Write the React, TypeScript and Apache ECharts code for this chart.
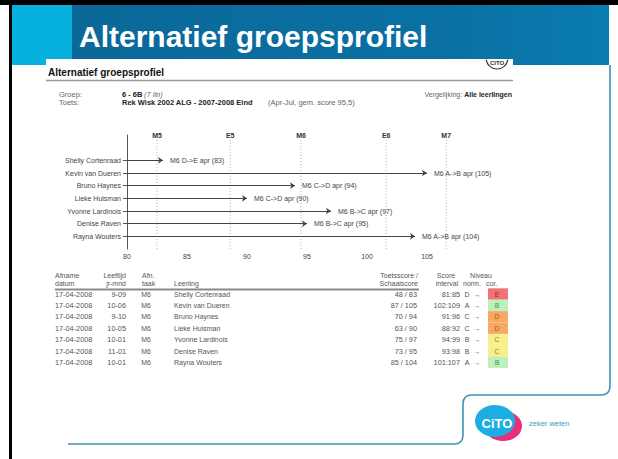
import React, { useEffect, useRef } from 'react';
import * as echarts from 'echarts';

const students = ['Shelly Cortenraad', 'Kevin van Dueren', 'Bruno Haynes', 'Lieke Huisman', 'Yvonne Lardinois', 'Denise Raven', 'Rayna Wouters'];
const scores = [83, 105, 94, 90, 97, 95, 104];
const scoreLabels = ['M6 D->E apr (83)', 'M6 A->B apr (105)', 'M6 C->D apr (94)', 'M6 C->D apr (90)', 'M6 B->C apr (97)', 'M6 B->C apr (95)', 'M6 A->B apr (104)'];
const refNames = ['M5', 'E5', 'M6', 'E6', 'M7'];
const refValues = [82.5, 88.6, 94.5, 101.6, 106.6];
const xTickLabels = [80, 85, 90, 95, 100, 105];
const xMinorTicks = [80, 81, 82, 83, 84, 85, 86, 87, 88, 89, 90, 91, 92, 93, 94, 95, 96, 97, 98, 99, 100, 101, 102, 103, 104, 105, 106, 107, 108];

const dates = ['17-04-2008', '17-04-2008', '17-04-2008', '17-04-2008', '17-04-2008', '17-04-2008', '17-04-2008'];
const ages = ['9-09', '10-06', '9-10', '10-05', '10-01', '11-01', '10-01'];
const tasks = ['M6', 'M6', 'M6', 'M6', 'M6', 'M6', 'M6'];
const toetsScores = ['48 / 83', '87 / 105', '70 / 94', '63 / 90', '75 / 97', '73 / 95', '85 / 104'];
const intervals = ['81:85', '102:109', '91:96', '88:92', '94:99', '93:98', '101:107'];
const normLevels = ['D', 'A', 'C', 'C', 'B', 'B', 'A'];
const corLevels = ['E', 'B', 'D', 'D', 'C', 'C', 'B'];

const levelBg: Record<string, string> = { E: '#f07474', B: '#bdf0bd', D: '#f6a965', C: '#f6ef8c', A: '#bdf0bd' };
const levelFg: Record<string, string> = { E: '#b31616', B: '#2f9a2f', D: '#b35a00', C: '#9a8c00', A: '#2f9a2f' };

const F = '"Liberation Sans", Arial, Helvetica, sans-serif';

const yCats = ['', ...students.slice().reverse(), '', ''];

function txt(x: number, y: number, text: string, o: any = {}) {
  const align = o.align || 'left';
  return {
    type: 'text',
    x,
    y,
    z: o.z || 10,
    style: {
      text,
      fontSize: o.size || 7,
      fontFamily: F,
      fontWeight: o.bold ? 'bold' : 'normal',
      fontStyle: o.italic ? 'italic' : 'normal',
      fill: o.color || '#555',
      align,
      textAlign: align,
      verticalAlign: 'middle',
      textVerticalAlign: 'middle',
      rich: o.rich,
    },
  };
}

export default function App() {
  const ref = useRef<HTMLDivElement>(null);
  useEffect(() => {
    if (!ref.current) return;
    const chart = echarts.init(ref.current, null, { renderer: 'svg' });

    const framePath = 'M 610 65 L 610 386 Q 610 395 601 395 L 472 395 Q 463 395 463 404 L 463 435 Q 463 444 454 444 L 68 444';
    echarts.graphic.registerShape('frameLine', echarts.graphic.extendPath(framePath, {}));

    const g: any[] = [];
    // outer frame
    g.push({ type: 'rect', shape: { x: 0, y: 0, width: 618, height: 5 }, style: { fill: '#000' }, z: 20 });
    g.push({ type: 'rect', shape: { x: 9, y: 0, width: 3, height: 459 }, style: { fill: '#000' }, z: 20 });
    // header band
    g.push({ type: 'rect', shape: { x: 12, y: 5, width: 60, height: 60 }, style: { fill: '#06b1de' }, z: 1 });
    g.push({
      type: 'rect', shape: { x: 72, y: 5, width: 537, height: 60 }, z: 1,
      style: {
        fill: new echarts.graphic.LinearGradient(0, 0, 1, 0, [
          { offset: 0, color: '#0b6899' },
          { offset: 0.7, color: '#0a70a3' },
          { offset: 1, color: '#0a7cb1' },
        ]),
      },
    });
    g.push(txt(79, 36, 'Alternatief groepsprofiel', { size: 30, bold: true, color: '#ffffff', z: 5 }));
    // inset white box
    g.push({ type: 'rect', shape: { x: 46, y: 59, width: 467, height: 8 }, style: { fill: '#ffffff' }, z: 3 });
    // small logo in inset
    g.push({ type: 'arc', shape: { cx: 497, cy: 58, r: 11, startAngle: 0.15, endAngle: Math.PI - 0.15 }, style: { stroke: '#333', lineWidth: 1.2, fill: 'none' }, z: 4 });
    g.push(txt(497, 63, 'CITO', { size: 6, bold: true, color: '#333', align: 'center', z: 4 }));
    // subtitle
    g.push(txt(48, 72, 'Alternatief groepsprofiel', { size: 10, bold: true, color: '#111' }));
    g.push({ type: 'line', shape: { x1: 46, y1: 80.5, x2: 513, y2: 80.5 }, style: { stroke: '#9a9a9a', lineWidth: 1.6 }, z: 5 });
    // info
    g.push(txt(59, 94.5, 'Groep:', { size: 7.5, color: '#666' }));
    g.push(txt(59, 102, 'Toets:', { size: 7.5, color: '#666' }));
    g.push(txt(122, 94.5, '6 - 6B', { size: 7.5, bold: true, color: '#222' }));
    g.push(txt(144, 94.5, '(7 lln)', { size: 7.5, italic: true, color: '#666' }));
    g.push(txt(122, 102, 'Rek Wisk 2002 ALG - 2007-2008 Eind', { size: 7.5, bold: true, color: '#222' }));
    g.push(txt(268, 102, '(Apr-Jul, gem. score 95,5)', { size: 7.5, color: '#666' }));
    g.push(txt(512, 94.5, '{a|Vergelijking: }{b|Alle leerlingen}', {
      size: 7, color: '#666', align: 'right',
      rich: {
        a: { fontSize: 7, fontFamily: F, fill: '#666', color: '#666' },
        b: { fontSize: 7, fontFamily: F, fontWeight: 'bold', fill: '#222', color: '#222' },
      },
    }));

    // table header
    const h1 = 275, h2 = 283;
    g.push(txt(55, h1, 'Afname'));
    g.push(txt(55, h2, 'datum'));
    g.push(txt(126, h1, 'Leeftijd', { align: 'right' }));
    g.push(txt(126, h2, 'jr-mnd', { align: 'right' }));
    g.push(txt(142, h1, 'Afn.'));
    g.push(txt(142, h2, 'taak'));
    g.push(txt(174, h2, 'Leerling'));
    g.push(txt(418, h1, 'Toetsscore /', { align: 'right' }));
    g.push(txt(418, h2, 'Schaalscore', { align: 'right' }));
    g.push(txt(446, h1, 'Score', { align: 'center' }));
    g.push(txt(447, h2, 'interval', { align: 'center' }));
    g.push(txt(481, h1, 'Niveau', { align: 'center' }));
    g.push(txt(463, h2, 'norm.'));
    g.push(txt(486, h2, 'cor.'));
    g.push({ type: 'line', shape: { x1: 55, y1: 289.5, x2: 419, y2: 289.5 }, style: { stroke: '#8a8a8a', lineWidth: 2 }, z: 5 });

    const rowH = 11.4;
    students.forEach((name, i) => {
      const y = 294 + i * rowH;
      g.push(txt(55, y, dates[i], { size: 7.3 }));
      g.push(txt(126, y, ages[i], { size: 7.3, align: 'right' }));
      g.push(txt(151, y, tasks[i], { align: 'right' }));
      g.push(txt(174, y, name));
      g.push(txt(417, y, toetsScores[i], { size: 7.3, align: 'right' }));
      g.push(txt(460, y, intervals[i], { size: 7.3, align: 'right' }));
      g.push(txt(467, y, normLevels[i], { align: 'center' }));
      g.push(txt(477, y, '→', { align: 'center' }));
      g.push({ type: 'rect', shape: { x: 488, y: y - rowH / 2, width: 20, height: rowH }, style: { fill: levelBg[corLevels[i]] }, z: 6 });
      g.push(txt(497, y, corLevels[i], { align: 'center', color: levelFg[corLevels[i]] }));
    });

    // footer decoration
    g.push({ type: 'frameLine', x: 0, y: 0, style: { stroke: '#3d93b4', lineWidth: 1.6, fill: 'none' }, z: 2 });
    g.push({ type: 'ellipse', shape: { cx: 503, cy: 426, rx: 19, ry: 15 }, style: { fill: '#e6307e' }, z: 6 });
    g.push({ type: 'ellipse', shape: { cx: 495, cy: 421, rx: 20, ry: 16 }, style: { fill: '#1aaee2' }, z: 7 });
    g.push(txt(497, 423, 'CiTO', { size: 13, bold: true, color: '#ffffff', align: 'center', z: 8 }));
    g.push(txt(529, 423, 'zeker weten', { size: 7.5, color: '#3a9cc0', z: 8 }));

    const linesData = students.map((s, i) => {
      const yi = yCats.indexOf(s);
      return { name: scoreLabels[i], coords: [[80, yi], [scores[i], yi]] };
    });

    const option: any = {
      animation: false,
      backgroundColor: '#ffffff',
      textStyle: { fontFamily: F },
      grid: { left: 127, top: 135, width: 340.8, height: 114, containLabel: false },
      xAxis: [
        {
          type: 'value', min: 80, max: 108.4, interval: 5,
          axisLine: { lineStyle: { color: '#555', width: 1 } },
          axisTick: { customValues: xTickLabels, length: 3, lineStyle: { color: '#555' } },
          axisLabel: { customValues: xTickLabels, fontSize: 7, color: '#444', margin: 3.5, fontFamily: F },
          splitLine: { show: false },
        },
        {
          type: 'value', min: 80, max: 108.4, position: 'bottom',
          axisLine: { show: false },
          axisTick: { customValues: xMinorTicks, length: 1.8, lineStyle: { color: '#777' } },
          axisLabel: { show: false },
          splitLine: { show: false },
        },
      ],
      yAxis: {
        type: 'category', data: yCats, boundaryGap: false,
        axisLine: { lineStyle: { color: '#555', width: 1 } },
        axisTick: { length: 4, interval: (i: number, v: string) => v !== '', lineStyle: { color: '#555' } },
        axisLabel: { fontSize: 7, color: '#444', margin: 6, interval: 0, fontFamily: F },
        splitLine: { show: false },
      },
      series: [
        {
          type: 'custom',
          coordinateSystem: 'cartesian2d',
          data: refValues.map((v) => [v, 0]),
          encode: { x: 0, y: 1 },
          z: 1,
          clip: false,
          renderItem: (params: any, api: any) => {
            const v = api.value(0);
            const b = api.coord([v, 0]);
            const t = api.coord([v, yCats.length - 1]);
            return {
              type: 'group',
              children: [
                { type: 'line', shape: { x1: b[0], y1: b[1], x2: t[0], y2: t[1] + 5 }, style: { stroke: '#b5b5b5', lineWidth: 1, lineDash: [1, 2] } },
                { type: 'text', x: t[0], y: t[1], style: { text: refNames[params.dataIndex], fontSize: 7, fontWeight: 'bold', fontFamily: F, fill: '#333', align: 'center', verticalAlign: 'middle' } },
              ],
            };
          },
        },
        {
          type: 'lines',
          coordinateSystem: 'cartesian2d',
          data: linesData,
          symbol: ['none', 'arrow'],
          symbolSize: 5,
          clip: false,
          z: 3,
          lineStyle: { color: '#444', width: 1, opacity: 1, curveness: 0 },
          label: { show: true, position: 'end', formatter: '{b}', fontSize: 7, color: '#444', distance: 7, fontFamily: F },
        },
      ],
      graphic: { elements: g },
    };
    chart.setOption(option);
    return () => chart.dispose();
  }, []);
  return <div ref={ref} style={{ position: 'absolute', left: 0, top: 0, width: 618, height: 459 }} />;
}
